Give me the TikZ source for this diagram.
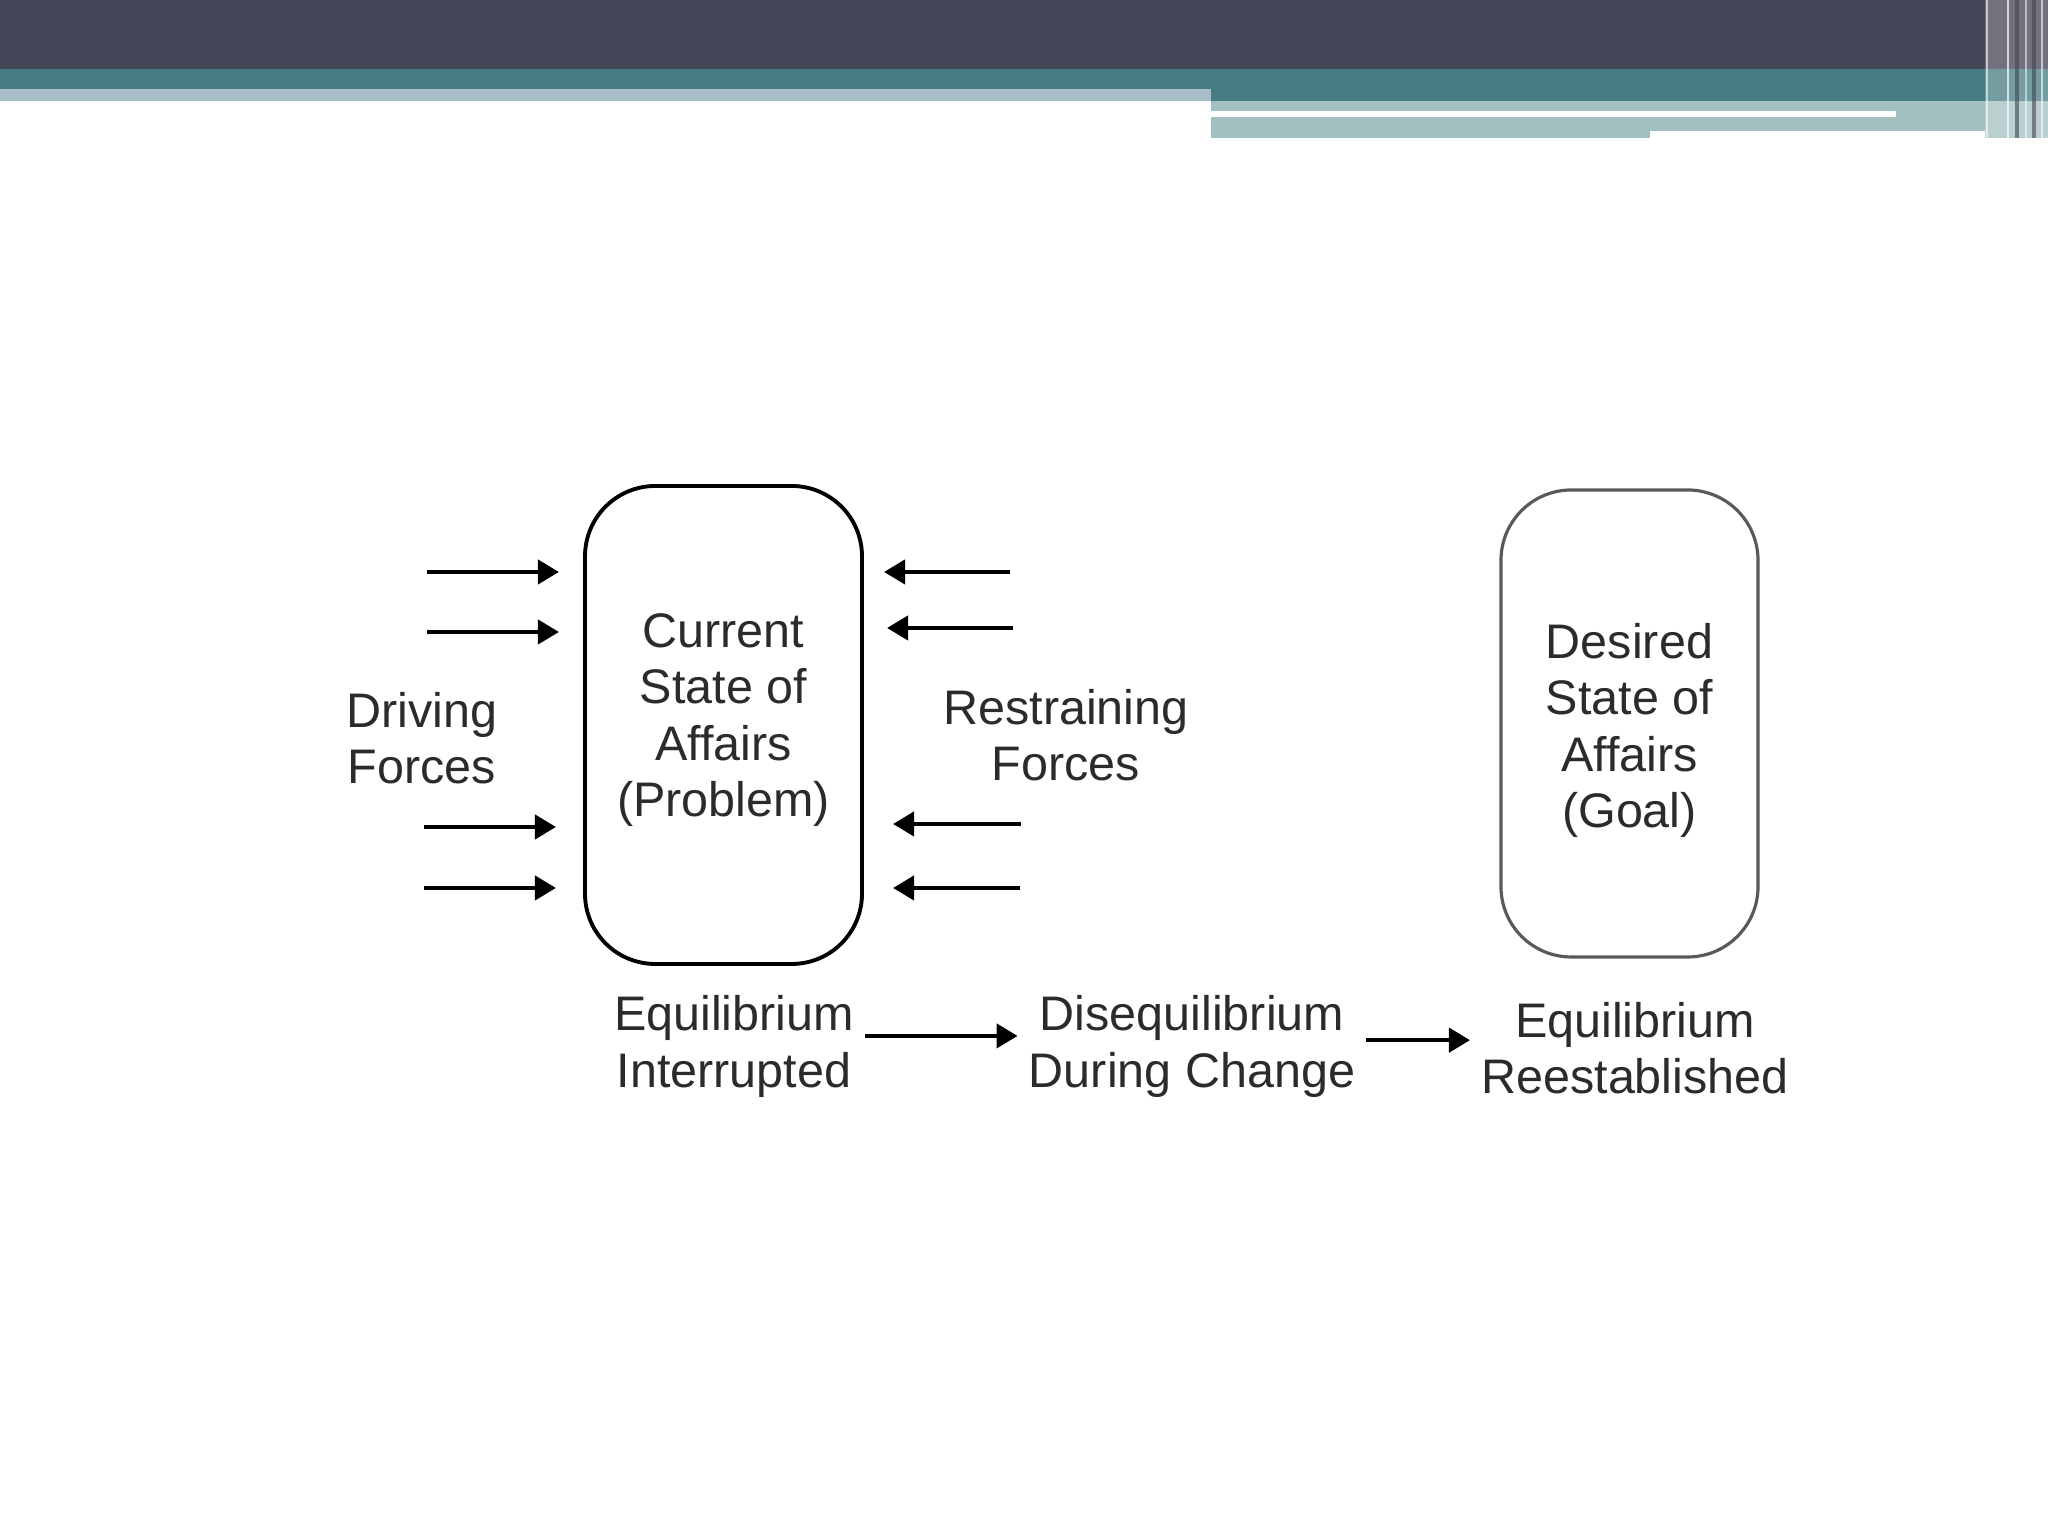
\documentclass[tikz,border=0pt]{standalone}
\usepackage{fontspec}
\setmainfont{Liberation Sans}
\usetikzlibrary{positioning, arrows.meta}
\definecolor{bannerDark}{HTML}{434455}
\definecolor{bannerTeal}{HTML}{467D84}
\definecolor{bannerGrey}{HTML}{A9BDC8}
\definecolor{bannerTealLt}{HTML}{A3C0C0}
\definecolor{textGray}{HTML}{2B2B2B}

\begin{document}
\begin{tikzpicture}[
    >={Triangle[length=6pt, width=6.8pt]},
    label/.style={
        font=\fontsize{13.8}{16}\selectfont, text=textGray, align=center, inner sep=3pt
    },
    statebox/.style={draw, rounded corners=20pt, line width=1.1pt},
    force/.style={->, line width=1.3pt},
]
\useasboundingbox (0,0) rectangle (20.48,15.36);

% ============================================
% Slide banner (top)
% ============================================
\fill[bannerDark] (0,14.67) rectangle (20.48,15.36);
\fill[bannerTeal] (0,14.47) rectangle (20.48,14.67);
\fill[bannerGrey] (0,14.353) rectangle (12.11,14.47);
\fill[bannerTeal] (12.11,14.353) rectangle (20.48,14.47);
\fill[bannerTealLt] (12.11,13.98) rectangle (20.48,14.353);
\fill[white] (12.11,14.19) rectangle (18.96,14.25);
\fill[white] (16.50,13.98) rectangle (19.85,14.05);

% vertical strips at the right edge
\fill[white, opacity=0.25] (19.85,13.98) rectangle (20.48,15.36);
\foreach \x/\o in {19.87/0.6, 20.08/0.7, 20.26/0.5, 20.42/0.6} {
    \draw[white, opacity=\o, line width=0.8pt] (\x,13.98) -- (\x,15.36);
}
\foreach \x in {20.17, 20.34} {
    \draw[bannerDark, opacity=0.6, line width=1pt] (\x,13.98) -- (\x,15.36);
}

% ============================================
% States
% ============================================
\node[statebox, minimum width=2.77cm, minimum height=4.78cm] (current) at (7.235,8.11) {};
\node[label] (currentTxt) at ([yshift=0.05cm]current.center) {Current\\State of\\Affairs\\(Problem)};

\node[statebox, draw=black!65, line width=0.9pt, minimum width=2.57cm, minimum height=4.67cm]
    (desired) at (16.295,8.125) {};
\node[label] (desiredTxt) at ([yshift=-0.07cm]desired.center) {Desired\\State of\\Affairs\\(Goal)};

% ============================================
% Forces
% ============================================
\node[label] (driving) at (4.22,7.98) {Driving\\Forces};
\node[label] (restraining) at (10.66,8.005) {Restraining\\Forces};

\foreach \n/\xa/\xb/\y in {1/4.27/5.59/9.64, 2/4.27/5.59/9.04, 3/4.24/5.56/7.09, 4/4.24/5.56/6.48} {
    \coordinate (drv\n a) at (\xa,\y);
    \coordinate (drv\n b) at (\xb,\y);
    \draw[force] (drv\n a) -- (drv\n b);
}
\foreach \n/\xa/\xb/\y in {1/10.10/8.84/9.64, 2/10.13/8.87/9.08, 3/10.21/8.93/7.12, 4/10.20/8.93/6.48} {
    \coordinate (rst\n a) at (\xa,\y);
    \coordinate (rst\n b) at (\xb,\y);
    \draw[force] (rst\n a) -- (rst\n b);
}

% ============================================
% Equilibrium stages
% ============================================
\node[label] (eqint) at (7.34,4.895) {Equilibrium\\Interrupted};
\node[label] (diseq) at (11.92,4.895) {Disequilibrium\\During Change};
\node[label] (eqre) at (16.35,4.88) {Equilibrium\\Reestablished};

\draw[force] ([yshift=3pt]eqint.east) -- ([yshift=3pt]diseq.west);
\draw[force] ([yshift=1.8pt]diseq.east) -- ([yshift=1.8pt]diseq.east -| eqre.west);

\end{tikzpicture}
\end{document}
